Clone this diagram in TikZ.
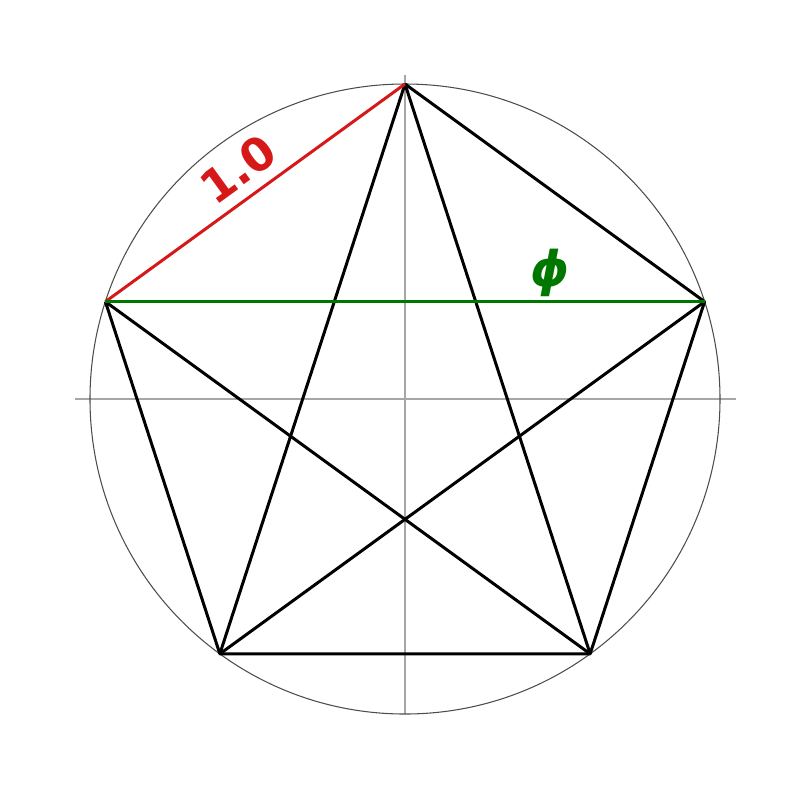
\documentclass[tikz,border=0pt]{standalone}
\usepackage{fontspec}
\newfontfamily\handfont{DejaVu Sans}
\definecolor{edgered}{RGB}{214,24,24}
\definecolor{diaggreen}{RGB}{0,120,0}
\begin{document}
\begin{tikzpicture}[
  axis/.style={gray!70,line width=0.6pt},
  rim/.style={black!70,line width=0.3pt},
  side/.style={line width=0.85pt,line join=round},
  lbl/.style={font=\handfont\bfseries\fontsize{13}{13}\selectfont}]
 \useasboundingbox (-4.05,-3.88) rectangle (4.04,3.99);
 \foreach \v in {0,...,4} {
  \pgfmathsetmacro{\cosv}{3.15*cos(72*\v+90)}
  \pgfmathsetmacro{\sinv}{3.15*sin(72*\v+90)}
  \coordinate (V\v) at (\cosv,\sinv);
 }
 \coordinate (C) at (0,0);
 \coordinate (XL) at (-3.30,0);
 \coordinate (XR) at (3.31,0);
 \coordinate (YT) at (0,3.24);
 \coordinate (YB) at (0,-3.15);
 \draw[axis] (XL) -- (XR);
 \draw[axis] (YT) -- (YB);
 \draw[rim] (C) circle (3.15);

 \draw[side] (V0) -- (V4) -- (V3) -- (V2) -- (V1);
 \draw[side] (V0) -- (V2);
 \draw[side] (V0) -- (V3);
 \draw[side] (V1) -- (V3);
 \draw[side] (V4) -- (V2);
 \draw[side,edgered] (V1)
  -- node[pos=0.5,above,sloped,lbl,inner sep=3pt]{1.0} (V0);
 \draw[side,diaggreen] (V1)
  -- node[pos=0.742,above,lbl,inner sep=1pt,font=\handfont\bfseries\itshape\fontsize{14}{14}\selectfont]{ϕ} (V4);
\end{tikzpicture}
\end{document}
